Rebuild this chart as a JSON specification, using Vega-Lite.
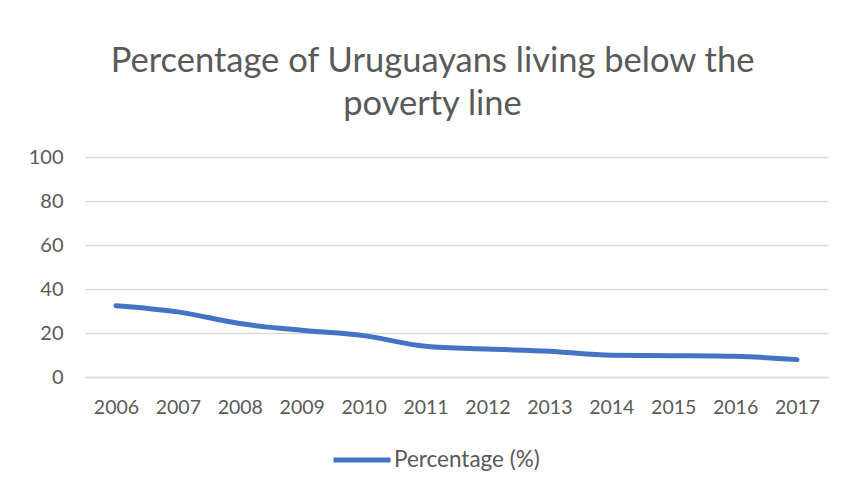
{
  "$schema": "https://vega.github.io/schema/vega-lite/v6.json",
  "width": 743,
  "height": 220,
  "autosize": {"type": "none"},
  "padding": {"left": 85, "top": 157, "right": 21, "bottom": 114},
  "background": "white",
  "title": {
    "text": ["Percentage of Uruguayans living below the", "poverty line"],
    "fontSize": 34.5,
    "font": "Lato",
    "fontWeight": "normal",
    "color": "#595959",
    "lineHeight": 43,
    "offset": 25,
    "dx": -24,
    "anchor": "middle"
  },
  "data": {
    "values": [
      {"year": "2006", "value": 32.4, "series": "Percentage (%)"},
      {"year": "2007", "value": 29.6, "series": "Percentage (%)"},
      {"year": "2008", "value": 24.3, "series": "Percentage (%)"},
      {"year": "2009", "value": 21.2, "series": "Percentage (%)"},
      {"year": "2010", "value": 18.8, "series": "Percentage (%)"},
      {"year": "2011", "value": 14.0, "series": "Percentage (%)"},
      {"year": "2012", "value": 12.7, "series": "Percentage (%)"},
      {"year": "2013", "value": 11.7, "series": "Percentage (%)"},
      {"year": "2014", "value": 9.9, "series": "Percentage (%)"},
      {"year": "2015", "value": 9.7, "series": "Percentage (%)"},
      {"year": "2016", "value": 9.4, "series": "Percentage (%)"},
      {"year": "2017", "value": 7.9, "series": "Percentage (%)"}
    ]
  },
  "mark": {"type": "line", "strokeWidth": 5, "interpolate": "monotone", "strokeCap": "round"},
  "encoding": {
    "x": {
      "field": "year",
      "type": "ordinal",
      "scale": {"padding": 0.5},
      "axis": {
        "title": null,
        "labelAngle": 0,
        "ticks": false,
        "grid": false,
        "domainColor": "#d9d9d9",
        "domainWidth": 1.5,
        "labelFontSize": 19.5,
        "labelFont": "Lato",
        "labelColor": "#595959",
        "labelPadding": 21
      }
    },
    "y": {
      "field": "value",
      "type": "quantitative",
      "scale": {"domain": [0, 100]},
      "axis": {
        "title": null,
        "values": [0, 20, 40, 60, 80, 100],
        "ticks": false,
        "domain": false,
        "gridColor": "#d9d9d9",
        "gridWidth": 1.5,
        "labelFontSize": 20,
        "labelFont": "Lato",
        "labelColor": "#595959",
        "labelPadding": 22
      }
    },
    "color": {
      "field": "series",
      "type": "nominal",
      "scale": {"range": ["#4472C4"]},
      "legend": {
        "title": null,
        "orient": "none",
        "legendX": 246,
        "legendY": 272,
        "symbolType": "stroke",
        "symbolSize": 3249,
        "symbolStrokeWidth": 5,
        "labelFontSize": 22.5,
        "labelFont": "Lato",
        "labelColor": "#595959",
        "labelOffset": 1
      }
    }
  },
  "config": {"view": {"stroke": null}}
}
